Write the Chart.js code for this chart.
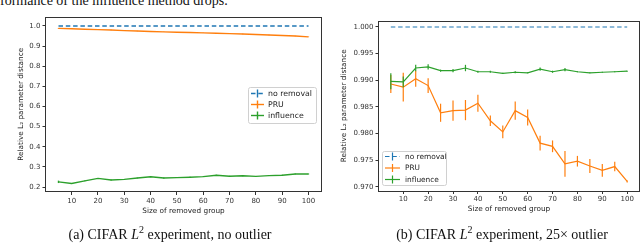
<!DOCTYPE html>
<html>
<head>
<meta charset="utf-8">
<script src="https://cdn.jsdelivr.net/npm/chart.js@4.4.0/dist/chart.umd.min.js"></script>
<style>
  body { margin: 0; width: 640px; height: 243px; background: #fff; overflow: hidden; position: relative; font-family: "Liberation Serif", serif; }
  canvas { position: absolute; top: 0; }
  #chartA { left: 0; }
  #chartB { left: 330px; }
  .cap { position: absolute; font-size: 14px; line-height: 14px; white-space: nowrap; color: #111; }
  .mid { transform: translateX(-50%); }
  .sup { position: relative; top: -6px; font-size: 10px; }
</style>
</head>
<body>
<div class="cap" style="left:0; top:-6px">formance of the influence method drops.</div>
<canvas id="chartA" width="330" height="243" style="width:330px;height:243px"></canvas>
<canvas id="chartB" width="310" height="243" style="width:310px;height:243px"></canvas>
<div class="cap mid" style="left:170px; top:228px">(a) CIFAR <i>L</i><span class="sup">2</span> experiment, no outlier</div>
<div class="cap mid" style="left:502px; top:228px">(b) CIFAR <i>L</i><span class="sup">2</span> experiment, 25&times; outlier</div>
<script>
/* ====== DATA ====== */
const groupSizes = [5, 10, 15, 20, 25, 30, 35, 40, 45, 50, 55, 60, 65, 70, 75, 80, 85, 90, 95, 100];
const xTicks = [10, 20, 30, 40, 50, 60, 70, 80, 90, 100];
const seriesNames = ["no removal", "PRU", "influence"];

// (a) no outlier
const yTicksA = [0.2, 0.3, 0.4, 0.5, 0.6, 0.7, 0.8, 0.9, 1.0];
const noRemovalA = [1, 1, 1, 1, 1, 1, 1, 1, 1, 1, 1, 1, 1, 1, 1, 1, 1, 1, 1, 1];
const pruA = [0.988, 0.986, 0.984, 0.982, 0.980, 0.977, 0.975, 0.973, 0.971, 0.969,
              0.968, 0.966, 0.964, 0.962, 0.960, 0.958, 0.955, 0.953, 0.950, 0.946];
const pruErrA = [0.002, 0.001, 0.001, 0.001, 0.001, 0.001, 0.001, 0.001, 0.001, 0.001,
                 0.001, 0.001, 0.001, 0.001, 0.001, 0.001, 0.001, 0.001, 0.001, 0.001];
const influenceA = [0.226, 0.218, 0.231, 0.243, 0.235, 0.238, 0.245, 0.251, 0.245, 0.247,
                    0.249, 0.252, 0.259, 0.254, 0.256, 0.253, 0.257, 0.259, 0.265, 0.265];
const influenceErrA = [0.006, 0.002, 0.002, 0.002, 0.002, 0.002, 0.002, 0.002, 0.002, 0.002,
                       0.002, 0.002, 0.002, 0.002, 0.002, 0.002, 0.002, 0.002, 0.002, 0.002];

// (b) 25x outlier
const yTicksB = [0.970, 0.975, 0.980, 0.985, 0.990, 0.995, 1.000];
const noRemovalB = [1, 1, 1, 1, 1, 1, 1, 1, 1, 1, 1, 1, 1, 1, 1, 1, 1, 1, 1, 1];
const pruB = [0.9893, 0.9887, 0.9903, 0.9890, 0.9839, 0.9843, 0.9844, 0.9857, 0.9824, 0.9803,
              0.9843, 0.9830, 0.9782, 0.9776, 0.9743, 0.9748, 0.9739, 0.9731, 0.9738, 0.9710];
const pruErrB = [0.0017, 0.0027, 0.0015, 0.0014, 0.0017, 0.0019, 0.0019, 0.0016, 0.0010, 0.0012,
                 0.0017, 0.0015, 0.0014, 0.0011, 0.0024, 0.0010, 0.0013, 0.0012, 0.0009, 0.0002];
const influenceB = [0.9898, 0.9897, 0.9923, 0.9925, 0.9918, 0.9918, 0.9923, 0.9916, 0.9916, 0.9913,
                    0.9915, 0.9914, 0.9921, 0.9916, 0.9920, 0.9916, 0.9914, 0.9915, 0.9916, 0.9917];
const influenceErrB = [0.0015, 0.0010, 0.0006, 0.0005, 0.0002, 0.0003, 0.0006, 0.0002, 0.0002, 0.0001,
                       0.0002, 0.0001, 0.0003, 0.0002, 0.0003, 0.0001, 0.0001, 0.0001, 0.0001, 0.0001];

const colors = ["#1f77b4", "#ff7f0e", "#2ca02c"];

/* ====== PLUGINS ====== */

// vertical error bars, drawn right after each line
const errorBars = {
  id: "errorBars",
  afterDatasetDraw(chart, args) {
    const ds = chart.data.datasets[args.index];
    if (!ds.errors) return;
    const y = chart.scales.y;
    const ctx = chart.ctx;
    ctx.save();
    ctx.strokeStyle = ds.borderColor;
    ctx.lineWidth = ds.borderWidth;
    args.meta.data.forEach((pt, i) => {
      const e = ds.errors[i];
      if (!e) return;
      const v = ds.data[i].y;
      ctx.beginPath();
      ctx.moveTo(pt.x, y.getPixelForValue(v - e));
      ctx.lineTo(pt.x, y.getPixelForValue(v + e));
      ctx.stroke();
    });
    ctx.restore();
  }
};

// axes frame + legend box in matplotlib style
const frameLegend = {
  id: "frameLegend",
  afterDraw(chart, args, o) {
    const ctx = chart.ctx;
    const a = chart.chartArea;
    ctx.save();
    ctx.strokeStyle = "#333";
    ctx.lineWidth = 1;
    ctx.strokeRect(Math.round(a.left) - 0.5, Math.round(a.top) + 0.5, Math.round(a.right - a.left) + 1, Math.round(a.bottom - a.top) - 1);

    const [bx, by, bw, bh] = o.box;
    ctx.fillStyle = "rgba(255,255,255,0.85)";
    ctx.strokeStyle = "#d0d0d0";
    ctx.beginPath();
    ctx.roundRect(bx + 0.5, by + 0.5, bw, bh, 2);
    ctx.fill();
    ctx.stroke();

    ctx.font = o.fontSize + "px 'DejaVu Sans'";
    ctx.textBaseline = "middle";
    chart.data.datasets.forEach((ds, i) => {
      const yy = o.rows[i];
      const [x0, x1] = o.handle;
      ctx.strokeStyle = ds.borderColor;
      ctx.lineWidth = ds.borderWidth;
      ctx.setLineDash(ds.borderDash || []);
      ctx.beginPath();
      ctx.moveTo(x0, yy);
      ctx.lineTo(x1, yy);
      ctx.stroke();
      ctx.setLineDash([]);
      ctx.beginPath();
      ctx.moveTo((x0 + x1) / 2, yy - 4);
      ctx.lineTo((x0 + x1) / 2, yy + 4);
      ctx.stroke();
      ctx.fillStyle = "#222";
      ctx.fillText(ds.label, o.textX, yy + 0.5);
    });
    ctx.restore();
  }
};

/* ====== CHARTS ====== */

function series(label, values, errs, color, width, dash) {
  return {
    label: label,
    data: groupSizes.map((x, i) => ({ x: x, y: values[i] })),
    errors: errs,
    borderColor: color,
    backgroundColor: color,
    borderWidth: width,
    borderDash: dash,
    pointRadius: 0,
    tension: 0,
    fill: false
  };
}

function createChart(el, cfg) {
  const tickFont = { family: "DejaVu Sans", size: 7 };
  const titleFont = { family: "DejaVu Sans", size: 7.3 };
  return new Chart(document.getElementById(el), {
    type: "line",
    data: {
      datasets: [
        series(seriesNames[0], cfg.noRemoval, null, colors[0], cfg.lw, [4.5, 2.8]),
        series(seriesNames[1], cfg.pru, cfg.pruErr, colors[1], cfg.lw),
        series(seriesNames[2], cfg.influence, cfg.influenceErr, colors[2], cfg.lw)
      ].map((d, i) => Object.assign(d, { order: 3 - i }))
    },
    options: {
      responsive: false,
      animation: false,
      layout: { padding: cfg.padding },
      plugins: { legend: { display: false }, tooltip: { enabled: false }, frameLegend: cfg.legend },
      scales: {
        x: {
          type: "linear",
          min: 0.25, max: 104.75,
          afterBuildTicks: s => { s.ticks = xTicks.map(v => ({ value: v })); },
          afterFit: s => { s.height = cfg.xHeight; },
          border: { display: false },
          grid: { drawOnChartArea: false, drawTicks: true, tickLength: cfg.xTickLen, color: "#333" },
          ticks: { font: tickFont, color: "#333", padding: cfg.xTickPad, maxRotation: 0, callback: v => v },
          title: { display: true, text: "Size of removed group", font: titleFont, color: "#222", padding: { top: 0, bottom: cfg.xTitlePad } }
        },
        y: {
          min: cfg.yMin, max: cfg.yMax,
          afterBuildTicks: s => { s.ticks = cfg.yTicks.map(v => ({ value: v })); },
          afterFit: s => { s.width = cfg.yWidth; },
          border: { display: false },
          grid: { drawOnChartArea: false, drawTicks: true, tickLength: 3.5, color: "#333" },
          ticks: { font: tickFont, color: "#333", padding: 2, callback: v => v.toFixed(cfg.digits) },
          title: { display: true, text: "Relative L\u2082 parameter distance", font: titleFont, color: "#222", padding: { top: cfg.yTitlePad, bottom: 0 } }
        }
      }
    },
    plugins: [errorBars, frameLegend]
  });
}

createChart("chartA", {
  noRemoval: noRemovalA, pru: pruA, pruErr: pruErrA, influence: influenceA, influenceErr: influenceErrA,
  yTicks: yTicksA, yMin: 0.178, yMax: 1.0447, digits: 1, lw: 1.4,
  padding: { left: 0, top: 17, right: 9, bottom: 0 },
  yWidth: 46, xHeight: 51.5, xTickLen: 3.5, xTickPad: 2,
  xTitlePad: 27.9, yTitlePad: 17.1,
  legend: { box: [248, 87, 68, 36], rows: [93.5, 104.5, 115.5], handle: [251, 264], textX: 268, fontSize: 7.8 }
});

createChart("chartB", {
  noRemoval: noRemovalB, pru: pruB, pruErr: pruErrB, influence: influenceB, influenceErr: influenceErrB,
  yTicks: yTicksB, yMin: 0.96921, yMax: 1.00122, digits: 3, lw: 1.2,
  padding: { left: 0, top: 20.5, right: 1, bottom: 0 },
  yWidth: 49, xHeight: 52, xTickLen: 3, xTickPad: 0.5,
  xTitlePad: 29.3, yTitlePad: 9.6,
  legend: { box: [52, 151, 64, 34], rows: [156.5, 168, 179.5], handle: [55, 70], textX: 75, fontSize: 7.4 }
});
</script>
</body>
</html>
